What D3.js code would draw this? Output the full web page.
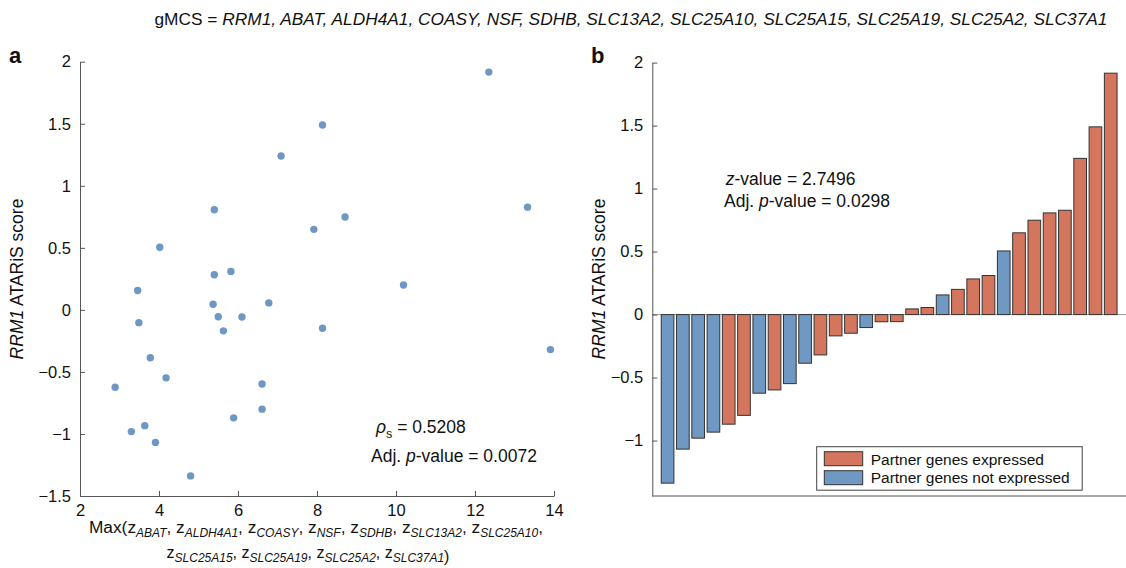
<!DOCTYPE html>
<html><head><meta charset="utf-8">
<script src="https://cdn.jsdelivr.net/npm/d3@7"></script>
<style>
body{margin:0;background:#fff;}
text{font-family:"Liberation Sans",Arial,sans-serif;fill:#111;}
</style></head><body>
<svg id="chart" width="1126" height="568"></svg>
<script>
// ---- Data ----
// Max z-score of partner genes (x) per cell line
const maxZ = [7.09, 5.40, 7.92, 4.02, 3.46, 3.49, 5.40, 5.82, 5.37, 6.78,
              5.50, 6.10, 5.63, 3.78, 4.18, 2.89, 6.61, 6.61, 5.89, 3.30,
              3.64, 3.91, 4.80, 12.35, 8.14, 8.71, 13.33, 8.14, 10.19, 13.91];
// RRM1 ATARiS score (y) per cell line
const ataris = [1.24, 0.807, 0.649, 0.505, 0.156, -0.103, 0.283, 0.31, 0.045, 0.056,
                -0.056, -0.057, -0.169, -0.386, -0.548, -0.624, -0.598, -0.80, -0.870, -0.981,
                -0.933, -1.068, -1.338, 1.916, 1.49, 0.749, 0.828, -0.148, 0.20, -0.32];
// Partner genes expressed? (1 = expressed, 0 = not expressed)
const partnerExpressed = [1, 1, 1, 0, 0, 0, 1, 1, 1, 1,
                          1, 1, 1, 0, 0, 0, 1, 1, 1, 0,
                          0, 0, 0, 1, 1, 1, 1, 1, 1, 1];
const xTicksA = [2, 4, 6, 8, 10, 12, 14];
const yTicks = [-1.5, -1, -0.5, 0, 0.5, 1, 1.5, 2];
const legendLabels = ["Partner genes expressed", "Partner genes not expressed"];
const titleGenes = "RRM1, ABAT, ALDH4A1, COASY, NSF, SDHB, SLC13A2, SLC25A10, SLC25A15, SLC25A19, SLC25A2, SLC37A1";
const xLabelLine1 = ["ABAT", "ALDH4A1", "COASY", "NSF", "SDHB", "SLC13A2", "SLC25A10"];
const xLabelLine2 = ["SLC25A15", "SLC25A19", "SLC25A2", "SLC37A1"];

const C_EXP = "#D4765D", C_NOT = "#6F98C2", C_DOT = "#6E97C3", AX = "#555";
const svg = d3.select("#chart");

// ---- Title ----
const title = svg.append("text").attr("x", 631).attr("y", 25).attr("text-anchor", "middle")
  .style("font-size", "17px").attr("textLength", 953).attr("lengthAdjust", "spacingAndGlyphs");
title.append("tspan").text("gMCS = ");
title.append("tspan").attr("font-style", "italic").text(titleGenes);

svg.append("text").attr("x", 9).attr("y", 63).style("font-size", "22px").style("font-weight", "bold").text("a");
svg.append("text").attr("x", 591).attr("y", 63).style("font-size", "22px").style("font-weight", "bold").text("b");

const fmt = d => d3.format("~g")(d);

// ---- Panel a ----
const xa = d3.scaleLinear().domain([2, 14]).range([80, 554]);
const ya = d3.scaleLinear().domain([-1.5, 2]).range([496, 61.7]);

const gA = svg.append("g");
const axLA = gA.append("g").attr("transform", "translate(80,0)")
  .call(d3.axisLeft(ya).tickValues(yTicks).tickFormat(fmt).tickSizeInner(-5).tickSizeOuter(0).tickPadding(9));
const axBA = gA.append("g").attr("transform", "translate(0,496)")
  .call(d3.axisBottom(xa).tickValues(xTicksA).tickFormat(fmt).tickSizeInner(-5).tickSizeOuter(0).tickPadding(8));
[axLA, axBA].forEach(a => {
  a.selectAll("path,line").attr("stroke", AX);
  a.selectAll("text").style("font-size", "16.5px").attr("fill", "#111");
});

gA.selectAll("circle").data(maxZ.map((x, i) => ({x, y: ataris[i]})))
  .enter().append("circle")
  .attr("cx", d => xa(d.x)).attr("cy", d => ya(d.y)).attr("r", 3.7).attr("fill", C_DOT);

svg.append("text").attr("transform", "translate(23,279) rotate(-90)").attr("text-anchor", "middle")
  .style("font-size", "17.5px")
  .call(t => { t.append("tspan").attr("font-style", "italic").text("RRM1"); t.append("tspan").text(" ATARiS score"); });

// x label with subscripts
function zList(t, genes, lastSep) {
  genes.forEach((g, i) => {
    t.append("tspan").text(i === 0 ? "z" : " z");
    t.append("tspan").attr("font-style", "italic").style("font-size", "12px").attr("dy", 4).text(g);
    t.append("tspan").attr("dy", -4).text((i < genes.length - 1 || lastSep) ? "," : "");
  });
}
const xl1 = svg.append("text").attr("x", 316).attr("y", 533).attr("text-anchor", "middle").style("font-size", "17.3px");
xl1.append("tspan").text("Max(");
zList(xl1, xLabelLine1, true);
const xl2 = svg.append("text").attr("x", 308).attr("y", 558).attr("text-anchor", "middle").style("font-size", "16px");
zList(xl2, xLabelLine2, false);
xl2.append("tspan").text(")");

// annotation a
const rho = svg.append("text").attr("x", 376).attr("y", 433).style("font-size", "17.5px");
rho.append("tspan").attr("font-style", "italic").text("ρ");
rho.append("tspan").style("font-size", "12.5px").attr("dy", 5).text("s");
rho.append("tspan").attr("dy", -5).text(" = 0.5208");
const pa = svg.append("text").attr("x", 371).attr("y", 462).style("font-size", "17.5px");
pa.append("tspan").text("Adj. ");
pa.append("tspan").attr("font-style", "italic").text("p");
pa.append("tspan").text("-value = 0.0072");

// ---- Panel b ----
const bars = ataris.map((v, i) => ({v, e: partnerExpressed[i]})).sort((a, b) => a.v - b.v);
const xb = d3.scaleLinear().domain([0, bars.length + 1]).range([652.3, 1126]);
const yb = d3.scaleLinear().domain([-1.44, 2]).range([496, 62.6]);
const bw = 0.83;

const gB = svg.append("g");
gB.append("line").attr("x1", xb(0)).attr("x2", xb(bars.length + 1)).attr("y1", yb(0)).attr("y2", yb(0))
  .attr("stroke", "#999").attr("stroke-width", 1);
gB.selectAll("rect.bar").data(bars).enter().append("rect").attr("class", "bar")
  .attr("x", (d, i) => xb(i + 1 - bw / 2)).attr("width", xb(bw) - xb(0))
  .attr("y", d => yb(Math.max(0, d.v))).attr("height", d => Math.abs(yb(d.v) - yb(0)))
  .attr("fill", d => d.e ? C_EXP : C_NOT).attr("stroke", "#333").attr("stroke-width", 1);

const axLB = gB.append("g").attr("transform", `translate(${xb(0)},0)`)
  .call(d3.axisLeft(yb).tickValues(yTicks.filter(t => t >= -1.44)).tickFormat(fmt).tickSizeInner(-5).tickSizeOuter(0).tickPadding(9));
axLB.selectAll("path,line").attr("stroke", AX);
axLB.selectAll("text").style("font-size", "16.5px").attr("fill", "#111");
gB.append("line").attr("x1", xb(0)).attr("x2", xb(bars.length + 1)).attr("y1", 496).attr("y2", 496).attr("stroke", AX);

svg.append("text").attr("transform", "translate(605,279) rotate(-90)").attr("text-anchor", "middle")
  .style("font-size", "17.5px")
  .call(t => { t.append("tspan").attr("font-style", "italic").text("RRM1"); t.append("tspan").text(" ATARiS score"); });

const zb = svg.append("text").attr("x", 725.7).attr("y", 185).style("font-size", "17.5px");
zb.append("tspan").attr("font-style", "italic").text("z");
zb.append("tspan").text("-value = 2.7496");
const pb = svg.append("text").attr("x", 724).attr("y", 206.5).style("font-size", "17.5px");
pb.append("tspan").text("Adj. ");
pb.append("tspan").attr("font-style", "italic").text("p");
pb.append("tspan").text("-value = 0.0298");

// legend
const lg = svg.append("g");
lg.append("rect").attr("x", 816.7).attr("y", 446.7).attr("width", 265.5).attr("height", 43.5)
  .attr("fill", "#fff").attr("stroke", "#444").attr("stroke-width", 1);
[C_EXP, C_NOT].forEach((c, i) => {
  lg.append("rect").attr("x", 824.3).attr("y", 451.7 + i * 19).attr("width", 38.4).attr("height", 14)
    .attr("fill", c).attr("stroke", "#333");
  lg.append("text").attr("x", 870.7).attr("y", 464.5 + i * 18.5).style("font-size", "15.5px").text(legendLabels[i]);
});
</script>
</body></html>
